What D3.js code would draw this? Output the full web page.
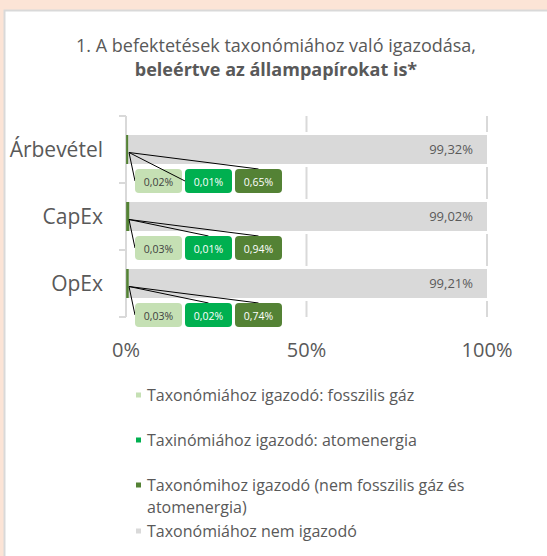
<!DOCTYPE html>
<html lang="hu">
<head>
<meta charset="UTF-8">
<title>Taxonómia igazodás</title>
<script src="https://cdn.jsdelivr.net/npm/d3@7"></script>
<style>
  html, body { margin: 0; padding: 0; background: #fce4d6; }
  svg { display: block; font-family: "Open Sans", sans-serif; }
</style>
</head>
<body>
<svg width="547" height="556"></svg>
<script>
// data
const categories = ["Árbevétel", "CapEx", "OpEx"];
const fossilGas = [0.02, 0.03, 0.03];
const nuclear = [0.01, 0.01, 0.02];
const otherAligned = [0.65, 0.94, 0.74];
const notAligned = [99.32, 99.02, 99.21];
const seriesNames = [
  "Taxonómiához igazodó: fosszilis gáz",
  "Taxinómiához igazodó: atomenergia",
  "Taxonómihoz igazodó (nem fosszilis gáz és atomenergia)",
  "Taxonómiához nem igazodó"
];
const ticks = [0, 50, 100];

const colors = ["#c5e0b4", "#00b050", "#548235", "#d9d9d9"];
const textCol = "#595959";

const loc = d3.formatLocale({decimal: ",", thousands: " ", grouping: [3], currency: ["", ""]});
const fmt = loc.format(".2f");

const svg = d3.select("svg");

// white panel
svg.append("rect")
  .attr("x", 4.5).attr("y", 10.5)
  .attr("width", 560).attr("height", 560)
  .attr("fill", "#fff")
  .attr("stroke", "#d9d9d9")
  .attr("stroke-width", 2);

// title
const title = svg.append("text")
  .attr("text-anchor", "middle")
  .attr("fill", textCol)
  .attr("font-size", 18);
title.append("tspan").attr("x", 276).attr("y", 52)
  .text("1. A befektetések taxonómiához való igazodása,");
title.append("tspan").attr("x", 276).attr("y", 76)
  .attr("font-weight", "bold")
  .text("beleértve az állampapírokat is*");

const x = d3.scaleLinear().domain([0, 100]).range([126, 487]);
const y = d3.scaleBand().domain(categories).range([116, 317])
  .paddingInner(0.567).paddingOuter(0.2835);

// gridlines
svg.append("g")
  .selectAll("line")
  .data(ticks.slice(1))
  .join("line")
  .attr("x1", d => x(d)).attr("x2", d => x(d))
  .attr("y1", 116).attr("y2", 317)
  .attr("stroke", "#d9d9d9").attr("stroke-width", 2);

// y axis
const yAxis = svg.append("g");
yAxis.append("line")
  .attr("x1", 126).attr("x2", 126).attr("y1", 116).attr("y2", 317)
  .attr("stroke", "#d9d9d9").attr("stroke-width", 2);
yAxis.selectAll("line.tick")
  .data([0, 1, 2, 3])
  .join("line")
  .attr("class", "tick")
  .attr("x1", 119).attr("x2", 126)
  .attr("y1", d => 116 + d * y.step()).attr("y2", d => 116 + d * y.step())
  .attr("stroke", "#d9d9d9").attr("stroke-width", 2);

// stacked data
const rows = categories.map((c, i) => ({
  cat: c,
  vals: [fossilGas[i], nuclear[i], otherAligned[i], notAligned[i]]
}));
const stack = d3.stack().keys([0, 1, 2, 3]).value((d, k) => d.vals[k]);
const series = stack(rows);

// white gap above/below grey bars (hides gridline next to them)
svg.append("g")
  .selectAll("rect")
  .data(series[3])
  .join("rect")
  .attr("x", d => x(d[0]) + 2)
  .attr("width", d => x(d[1]) - x(d[0]))
  .attr("y", d => y(d.data.cat) - 3)
  .attr("height", y.bandwidth() + 6)
  .attr("fill", "#fff");

svg.append("g")
  .selectAll("g")
  .data(series)
  .join("g")
  .attr("fill", (d, i) => colors[i])
  .selectAll("rect")
  .data(d => d)
  .join("rect")
  .attr("x", d => x(d[0]))
  .attr("width", d => x(d[1]) - x(d[0]))
  .attr("y", d => y(d.data.cat))
  .attr("height", y.bandwidth());

svg.append("g")
  .selectAll("text")
  .data(categories)
  .join("text")
  .attr("x", 103)
  .attr("y", d => y(d) + y.bandwidth() / 2)
  .attr("dy", "0.35em")
  .attr("text-anchor", "end")
  .attr("fill", textCol)
  .attr("font-size", 21)
  .text(d => d);

// x tick labels
svg.append("g")
  .selectAll("text")
  .data(ticks)
  .join("text")
  .attr("x", d => x(d))
  .attr("y", 357)
  .attr("text-anchor", "middle")
  .attr("fill", textCol)
  .attr("font-size", 20)
  .text(d => d + "%");

// label for not-aligned part
svg.append("g")
  .selectAll("text")
  .data(series[3])
  .join("text")
  .attr("x", d => x(d[1]) - 14)
  .attr("y", d => y(d.data.cat) + y.bandwidth() / 2)
  .attr("dy", "0.35em")
  .attr("text-anchor", "end")
  .attr("fill", textCol)
  .attr("font-size", 13)
  .text(d => fmt(d[1] - d[0]) + "%");

// callout boxes for small segments
const boxW = 47, boxH = 24;
const callouts = svg.append("g");
rows.forEach((r, ri) => {
  const top = y(r.cat) + y.bandwidth() + 5;
  const ox = x(0) + 3, oy = y(r.cat) + y.bandwidth() / 2 + 3;
  [0, 1, 2].forEach(k => {
    const bx = x(0) + 9 + k * (boxW + 3);
    let ax, ay;
    if (k === 0 || (k === 1 && ri === 0)) { ax = bx; ay = top + boxH / 2; }
    else { ax = bx + boxW / 2; ay = top; }
    callouts.append("line")
      .attr("x1", ox).attr("y1", oy).attr("x2", ax).attr("y2", ay)
      .attr("stroke", "#000").attr("stroke-width", 1);
    callouts.append("rect")
      .attr("x", bx).attr("y", top)
      .attr("width", boxW).attr("height", boxH)
      .attr("rx", 4)
      .attr("fill", colors[k]);
    callouts.append("text")
      .attr("x", bx + boxW / 2).attr("y", top + boxH / 2 + 1)
      .attr("dy", "0.35em")
      .attr("text-anchor", "middle")
      .attr("font-size", 10.5)
      .attr("fill", k === 0 ? "#404040" : "#fff")
      .text(fmt(r.vals[k]) + "%");
  });
});

// legend
const legendY = [395, 440, 485, 531];
const legend = svg.append("g");
seriesNames.forEach((name, i) => {
  legend.append("rect")
    .attr("x", 136).attr("y", legendY[i] - 2.5)
    .attr("width", 5).attr("height", 5)
    .attr("fill", colors[i]);
  const t = legend.append("text")
    .attr("x", 147).attr("y", legendY[i])
    .attr("dy", "0.35em")
    .attr("fill", textCol)
    .attr("font-size", 16);
  if (i === 2) {
    t.append("tspan").text("Taxonómihoz igazodó (nem fosszilis gáz és");
    t.append("tspan").attr("x", 147).attr("dy", 22).text("atomenergia)");
  } else {
    t.text(name);
  }
});
</script>
</body>
</html>
